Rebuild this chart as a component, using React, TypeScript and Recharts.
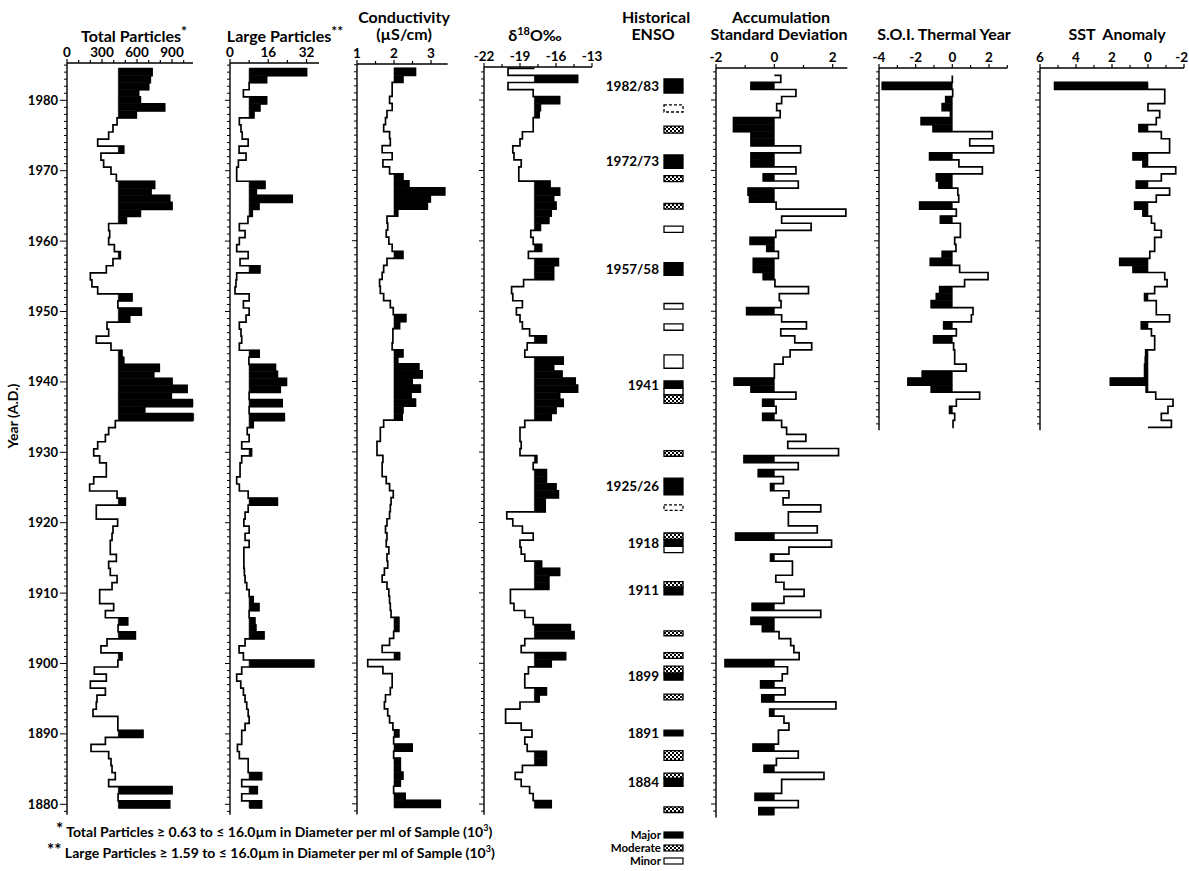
import { ComposedChart, XAxis, YAxis, Scatter, ReferenceArea, ReferenceLine } from "recharts";

const FONT = "Lato, 'Open Sans', sans-serif";

// every panel shares one vertical scale: 1980 sits at y=100, 7.04 px per year
const PX_PER_YEAR = 7.04;
const yPix = (year: number) => 100 + (1980 - year) * PX_PER_YEAR;
const AXIS_H = 34;

const decadeLabels = [1880, 1890, 1900, 1910, 1920, 1930, 1940, 1950, 1960, 1970, 1980];

// values run from the newest year back to the oldest
const totalParticles = [
  729, 714, 700, 614, 629, 837, 594, 429, 394, 357, // 1984-1975
  263, 486, 291, 314, 377, 423, 751, 720, 880, 900, // 1974-1965
  629, 509, 357, 366, 357, 406, 457, 394, 337, 200, // 1964-1955
  214, 263, 557, 436, 637, 537, 343, 357, 251, 377, // 1954-1945
  471, 486, 791, 743, 900, 1029, 894, 1080, 666, 1086, // 1944-1935
  414, 357, 329, 263, 229, 280, 337, 337, 229, 194, // 1934-1925
  429, 500, 251, 251, 434, 394, 386, 371, 371, 423, // 1924-1915
  357, 371, 429, 386, 280, 280, 400, 329, 520, 438, // 1914-1905
  586, 343, 291, 471, 436, 234, 337, 200, 329, 257, // 1904-1895
  251, 223, 436, 436, 651, 329, 206, 357, 377, 386, // 1894-1885
  414, 357, 900, 438, 880, // 1884-1880
];
const largeParticles = [
  32, 15.3, 8, 5.6, 15.3, 12.5, 10, 3.9, 4.6, 5.1,
  7.6, 3.8, 6.7, 3.5, 2.8, 2.8, 14.6, 11, 26, 12.1,
  9.3, 7.5, 3.9, 6.3, 3.9, 2.8, 7.6, 4.2, 12.5, 2.8,
  2.5, 2.1, 8, 5.6, 8, 6.7, 3.9, 4.6, 4.9, 3.9,
  12.2, 7.9, 19, 19.8, 23.6, 21, 8, 21.8, 8, 22.7,
  9.7, 7.2, 8, 4.9, 9, 4.9, 4.2, 4.2, 2.8, 3.9,
  7.6, 19.8, 7.6, 6.3, 5.8, 8, 6.3, 8, 5.8, 5.8,
  5.8, 6, 6.3, 7, 8, 9.7, 12.1, 8, 10.4, 10.8,
  14.2, 6.3, 3.8, 5.6, 35, 4.9, 2.8, 4.5, 5.6, 6.3,
  7, 7.6, 8, 6.3, 4.9, 4.9, 3.1, 3.9, 7.6, 7.6,
  13.2, 4.9, 11.4, 4.9, 13.2,
];
const conductivity = [
  2.58, 2.24, 1.95, 1.95, 1.88, 1.95, 1.81, 1.77, 1.72, 1.88,
  1.9, 1.68, 1.95, 1.7, 1.88, 2.24, 2.4, 3.37, 2.98, 2.9,
  2.1, 1.81, 1.83, 1.79, 1.86, 1.95, 2.24, 1.81, 1.72, 1.68,
  1.61, 1.63, 1.72, 1.9, 1.98, 2.32, 2.15, 1.97, 1.97, 1.95,
  2.24, 2.1, 2.67, 2.76, 2.49, 2.71, 2.46, 2.58, 2.24, 2.22,
  1.72, 1.63, 1.63, 1.54, 1.54, 1.7, 1.68, 1.68, 1.79, 1.88,
  1.98, 1.92, 1.9, 1.88, 1.81, 1.77, 1.81, 1.79, 1.86, 1.81,
  1.83, 1.74, 1.68, 1.81, 1.86, 1.88, 1.9, 1.92, 2.13, 2.13,
  1.99, 1.88, 1.68, 2.15, 1.29, 1.7, 1.95, 1.95, 1.9, 1.77,
  1.74, 1.83, 1.88, 1.97, 2.13, 1.99, 2.49, 1.99, 2.17, 2.17,
  2.24, 2.17, 1.99, 2.3, 3.25,
];
const delta18O = [
  -20.0, -14.2, -20.0, -17.9, -15.7, -17.3, -17.4, -17.9, -17.9, -18.8,
  -19.0, -19.6, -19.5, -18.9, -19.1, -19.1, -16.5, -15.7, -16.2, -16.0,
  -16.4, -16.6, -17.3, -18.1, -17.9, -17.2, -18.3, -15.8, -16.2, -16.2,
  -18.7, -19.7, -19.6, -18.8, -19.3, -19.0, -18.8, -18.2, -16.8, -18.4,
  -18.6, -15.4, -16.2, -15.5, -14.4, -14.2, -15.7, -15.4, -16.0, -16.4,
  -18.6, -19.0, -19.0, -18.9, -19.0, -17.6, -17.9, -16.8, -16.8, -16.0,
  -15.8, -16.9, -16.9, -20.1, -19.6, -18.8, -17.9, -19.0, -18.9, -18.6,
  -17.2, -15.7, -16.6, -16.6, -19.8, -19.8, -19.5, -18.6, -17.9, -14.8,
  -14.5, -18.6, -18.9, -15.2, -16.4, -18.3, -18.6, -18.6, -16.8, -17.4,
  -19.0, -20.2, -20.2, -18.9, -18.0, -18.6, -18.4, -16.8, -16.8, -18.8,
  -19.4, -18.9, -18.2, -17.9, -16.4,
];
// 1983 back to 1879
const accumulation = [
  0.22, -0.8, 0.74, 0.25, 0.08, 0.2, -1.4, -1.4, -0.8, -0.8,
  0.9, -0.8, -0.8, 0.74, -0.38, 0.82, -0.9, -0.85, 0.06, 2.45,
  0.25, 1.26, 0.05, -0.83, -0.26, 0.14, -0.72, -0.72, -0.38, 0.02,
  1.17, 0.17, 0.23, -0.95, 0.25, 1.1, 0.22, 0.7, 1.28, 0.54,
  0.3, 0, 0, -1.38, -0.8, 0.74, -0.4, 0.06, -0.4, 0.25,
  0.42, 1.08, 0.46, 2.2, -1.04, 0.82, -0.55, 0.31, -0.13, 0.5,
  0.3, 1.59, 0.48, 0.48, 1.47, -1.33, 1.96, 0.5, -0.13, 0.62,
  0.62, 0.05, 0.33, 1.02, 0.33, -0.76, 1.59, -0.8, -0.41, 0.16,
  0.56, 0.67, 0.85, -1.69, 0.45, 0.27, -0.47, 0.37, -0.43, 2.11,
  -0.16, 0.33, 0.5, 0.14, 0.14, -0.73, 0.82, 0.07, -0.35, 1.7,
  0.25, 0.25, -0.66, 0.82, -0.53,
];
// 1983 back to 1934
const soi = [
  0, -3.82, 0.02, -0.36, -0.55, -0.1, -1.7, -1.05, 2.18, 0.95,
  2.25, -1.24, 0.36, 1.64, -0.87, -0.73, 0.3, 0.35, -1.78, 0.22,
  -0.65, 0.44, 0.44, 0.13, 0.2, -0.55, -1.2, 0.4, 1.95, 0.67,
  -0.69, -0.87, -1.15, 1.13, 1.04, -0.47, 0.22, -1.02, 0.07, 0.13,
  0.13, 0.76, -1.64, -2.42, -1.15, 1.49, 0.22, -0.15, 0.13, 0.04,
];
// 1982 back to 1934
const sst = [
  5.19, -0.93, -0.93, 0, -0.65, -0.46, 0.5, -0.74, -1.2, -1.2,
  0.83, 0.28, -1.54, -0.74, 0.65, -1.2, -0.46, 0.74, 0.28, -0.19,
  -0.37, -0.74, -0.37, -0.37, -0.1, 1.57, 0.83, -0.93, -1.06, -0.37,
  0.19, -0.46, -0.46, -1.2, 0.37, -0.19, -0.37, -0.37, 0.13, 0.15,
  0.19, 0.19, 2.09, 0.1, -0.43, -1.39, -1.11, -0.74, -1.3,
];

// historical ENSO boxes: [top year, bottom year, strength]
const ensoBoxes: [number, number, string][] = [
  [1983.0, 1981.0, "major"],
  [1979.3, 1978.3, "dashed"],
  [1976.3, 1975.3, "moderate"],
  [1972.2, 1970.3, "major"],
  [1969.25, 1968.4, "moderate"],
  [1965.3, 1964.5, "moderate"],
  [1962.1, 1961.2, "minor"],
  [1956.9, 1955.1, "major"],
  [1951.1, 1950.3, "minor"],
  [1948.2, 1947.3, "minor"],
  [1943.8, 1941.9, "minor"],
  [1940.1, 1939.05, "major"],
  [1939.05, 1938.1, "minor"],
  [1938.1, 1936.9, "moderate"],
  [1930.2, 1929.4, "moderate"],
  [1926.3, 1923.9, "major"],
  [1922.5, 1921.7, "dashed"],
  [1918.5, 1917.6, "moderate"],
  [1917.6, 1916.6, "major"],
  [1916.6, 1915.7, "minor"],
  [1911.6, 1910.8, "moderate"],
  [1910.8, 1909.7, "major"],
  [1904.6, 1903.9, "moderate"],
  [1901.5, 1900.7, "moderate"],
  [1899.6, 1898.6, "moderate"],
  [1898.6, 1897.6, "major"],
  [1895.6, 1894.8, "moderate"],
  [1890.5, 1889.7, "major"],
  [1887.6, 1886.2, "moderate"],
  [1884.4, 1883.65, "moderate"],
  [1883.65, 1882.5, "major"],
  [1879.6, 1878.8, "moderate"],
];
const ensoLabels: [string, number][] = [
  ["1982/83", 1982.0],
  ["1972/73", 1971.25],
  ["1957/58", 1956.0],
  ["1941", 1939.5],
  ["1925/26", 1925.1],
  ["1918", 1917.1],
  ["1911", 1910.4],
  ["1899", 1898.2],
  ["1891", 1890.1],
  ["1884", 1883.1],
];

function stepPoints(first: number, values: number[], base: number) {
  const pts = [{ v: base, y: first + 0.5 }];
  values.forEach((v, i) => {
    pts.push({ v, y: first - i + 0.5 }, { v, y: first - i - 0.5 });
  });
  pts.push({ v: base, y: first - values.length + 0.5 });
  return pts;
}

function yearTicks(bottom: number, top: number) {
  const t: number[] = [];
  for (let y = Math.ceil(bottom); y <= Math.floor(top); y++) t.push(y);
  return t;
}

function TopTick(props: any) {
  const { x, y, payload, labels, endValue } = props;
  const major = labels.includes(payload.value);
  const atEnd = endValue !== undefined && payload.value === endValue;
  return (
    <g>
      <line x1={x} x2={x} y1={y} y2={y - (major ? 4 : 3)} stroke="#000" strokeWidth={1.2} />
      {major && (
        <text
          x={atEnd ? x + 4 : x}
          y={y - 6}
          textAnchor={atEnd ? "end" : "middle"}
          fontSize={13.5}
          fill="#000"
        >
          {payload.value}
        </text>
      )}
    </g>
  );
}

function YearTick(props: any) {
  const { x, y, payload, showLabels } = props;
  const decade = payload.value % 10 === 0;
  const len = decade ? (showLabels ? 7 : 5) : 3;
  return (
    <g>
      <line x1={x} x2={x - len} y1={y} y2={y} stroke="#000" strokeWidth={1} />
      {showLabels && decadeLabels.includes(payload.value) && (
        <text x={x - len - 2} y={y} dy="0.35em" textAnchor="end" fontSize={13} fill="#000">
          {payload.value}
        </text>
      )}
    </g>
  );
}

type PanelProps = {
  left: number;
  width: number;
  domain: [number, number];
  reversed?: boolean;
  ticks: number[];
  labels: number[];
  endLabel?: number;
  first: number;
  values: number[];
  base: number;
  blackAbove: boolean;
  top: number;
  bottom: number;
  yearLabels?: boolean;
};

function StepPanel(p: PanelProps) {
  const yAxisW = p.yearLabels ? 48 : 10;
  const plotH = yPix(p.bottom) - yPix(p.top);
  const pts = stepPoints(p.first, p.values, p.base);
  const black = (v: number) => (p.blackAbove ? v > p.base : v < p.base);
  return (
    <div style={{ position: "absolute", left: p.left - yAxisW, top: yPix(p.top) - AXIS_H }}>
      <ComposedChart
        width={yAxisW + p.width + 14}
        height={AXIS_H + plotH + 4}
        margin={{ top: 0, right: 14, bottom: 4, left: 0 }}
      >
        <XAxis
          type="number"
          dataKey="v"
          orientation="top"
          domain={p.domain}
          reversed={p.reversed}
          allowDataOverflow
          ticks={p.ticks}
          interval={0}
          height={AXIS_H}
          tickSize={0}
          tickMargin={0}
          tickLine={false}
          axisLine={{ stroke: "#000", strokeWidth: 1.4 }}
          tick={(t: any) => <TopTick {...t} labels={p.labels} endValue={p.endLabel} />}
        />
        <YAxis
          type="number"
          dataKey="y"
          domain={[p.bottom, p.top]}
          allowDataOverflow
          ticks={yearTicks(p.bottom, p.top)}
          interval={0}
          width={yAxisW}
          tickSize={0}
          tickMargin={0}
          tickLine={false}
          axisLine={{ stroke: "#000", strokeWidth: 1.4 }}
          tick={(t: any) => <YearTick {...t} showLabels={!!p.yearLabels} />}
        />
        {p.values.map((v, i) =>
          black(v) ? (
            <ReferenceArea
              key={i}
              x1={p.base}
              x2={v}
              y1={p.first - i - 0.5}
              y2={p.first - i + 0.5}
              fill="#000"
              fillOpacity={1}
              stroke="#000"
              strokeWidth={0.6}
              ifOverflow="visible"
            />
          ) : null
        )}
        <Scatter
          data={pts}
          line={{ stroke: "#000", strokeWidth: 1.7 }}
          shape={() => <g />}
          isAnimationActive={false}
        />
      </ComposedChart>
    </div>
  );
}

function ensoStyle(kind: string) {
  if (kind === "major") return { fill: "#000" };
  if (kind === "moderate") return { fill: "url(#enso-moderate)" };
  if (kind === "dashed") return { fill: "#fff", strokeDasharray: "3 2" };
  return { fill: "#fff" };
}

function EnsoPanel() {
  const left = 664;
  const width = 19;
  const ml = 72;
  const top = 1984.55;
  const bottom = 1878.1;
  const plotH = yPix(bottom) - yPix(top);
  // centre of every box, used only so the chart has a series to lay out
  const centres = ensoBoxes.map(([a, b]) => ({ x: 0.5, y: (a + b) / 2 }));
  return (
    <div style={{ position: "absolute", left: left - ml, top: yPix(top) }}>
      <ComposedChart
        width={ml + width + 2}
        height={plotH}
        margin={{ top: 0, right: 2, bottom: 0, left: ml }}
        data={centres}
      >
        <XAxis type="number" dataKey="x" domain={[0, 1]} hide allowDataOverflow />
        <YAxis type="number" dataKey="y" domain={[bottom, top]} hide allowDataOverflow />
        {ensoBoxes.map(([a, b, kind], i) => (
          <ReferenceArea
            key={i}
            x1={0}
            x2={1}
            y1={b}
            y2={a}
            fillOpacity={1}
            stroke="#000"
            strokeWidth={1.3}
            ifOverflow="visible"
            {...ensoStyle(kind)}
          />
        ))}
        {ensoLabels.map(([text, yr]) => (
          <ReferenceLine
            key={text}
            y={yr}
            stroke="none"
            ifOverflow="visible"
            label={{ value: text, position: "left", offset: 5, fill: "#000", fontSize: 13.5 }}
          />
        ))}
        <Scatter data={centres} shape={() => <g />} isAnimationActive={false} />
      </ComposedChart>
    </div>
  );
}

function Title({ x, y, children, size = 16 }: { x: number; y: number; children: any; size?: number }) {
  return (
    <div
      style={{
        position: "absolute",
        left: x,
        top: y,
        transform: "translate(-50%, -50%)",
        whiteSpace: "nowrap",
        fontSize: size,
        lineHeight: 1,
      }}
    >
      {children}
    </div>
  );
}

const totalTicks = [0, 100, 200, 300, 400, 500, 600, 700, 800, 900, 1000];
const totalLabels = [0, 300, 600, 900];
const largeTicks = [0, 8, 16, 24, 32];
const largeLabels = [0, 16, 32];
const condTicks = [1, 1.5, 2, 2.5, 3];
const condLabels = [1, 2, 3];
const deltaTicks = [-22, -20.5, -19, -17.5, -16, -14.5, -13];
const deltaLabels = [-22, -19, -16, -13];
const accTicks = [-2, -1, 0, 1, 2];
const accLabels = [-2, 0, 2];
const soiTicks = [-4, -3, -2, -1, 0, 1, 2, 3];
const soiLabels = [-4, -2, 0, 2];
const sstTicks = [-2, -1, 0, 1, 2, 3, 4, 5, 6];
const sstLabels = [6, 4, 2, 0, -2];

export default function App() {
  return (
    <div
      style={{
        position: "absolute",
        left: 0,
        top: 0,
        width: 1189,
        height: 871,
        background: "#fff",
        fontFamily: FONT,
        fontWeight: 700,
        color: "#000",
        overflow: "hidden",
      }}
    >
      <style>{`.recharts-surface{overflow:visible}`}</style>
      <svg width={0} height={0} style={{ position: "absolute" }}>
        <defs>
          <pattern id="enso-moderate" width={4} height={4} patternUnits="userSpaceOnUse">
            <rect width={4} height={4} fill="#fff" />
            <rect width={2} height={2} fill="#000" />
            <rect x={2} y={2} width={2} height={2} fill="#000" />
          </pattern>
        </defs>
      </svg>

      <Title x={134} y={34}>Total Particles<sup style={{ fontSize: 14 }}>*</sup></Title>
      <Title x={285} y={34}>Large Particles<sup style={{ fontSize: 14 }}>**</sup></Title>
      <Title x={404} y={17}>Conductivity</Title>
      <Title x={404} y={34}>(µS/cm)</Title>
      <Title x={535} y={34}>δ<sup style={{ fontSize: 11 }}>18</sup>O‰</Title>
      <Title x={656} y={17}>Historical</Title>
      <Title x={653} y={34}>ENSO</Title>
      <Title x={781} y={17}>Accumulation</Title>
      <Title x={779} y={34}>Standard Deviation</Title>
      <Title x={944} y={34}>S.O.I. Thermal Year</Title>
      <Title x={1117} y={34}>SST&nbsp;&nbsp;Anomaly</Title>

      <div
        style={{
          position: "absolute",
          left: 12,
          top: 416,
          transform: "translate(-50%, -50%) rotate(-90deg)",
          whiteSpace: "nowrap",
          fontSize: 14,
        }}
      >
        Year (A.D.)
      </div>

      <StepPanel left={66.7} width={126} domain={[0, 1080]} ticks={totalTicks} labels={totalLabels}
        first={1984} values={totalParticles} base={440} blackAbove top={1985.3} bottom={1878.5} yearLabels />
      <StepPanel left={230} width={89} domain={[0, 37.2]} ticks={largeTicks} labels={largeLabels}
        first={1984} values={largeParticles} base={8} blackAbove top={1985.3} bottom={1878.5} />
      <StepPanel left={356.7} width={90.7} domain={[1, 3.45]} ticks={condTicks} labels={condLabels}
        first={1984} values={conductivity} base={2} blackAbove top={1985.1} bottom={1878.5} />
      <StepPanel left={484} width={108} domain={[-22, -13]} ticks={deltaTicks} labels={deltaLabels}
        first={1984} values={delta18O} base={-17.8} blackAbove top={1984.7} bottom={1878.5} />
      <EnsoPanel />
      <StepPanel left={716} width={131.3} domain={[-2, 2.5]} ticks={accTicks} labels={accLabels}
        first={1983} values={accumulation} base={0} blackAbove={false} top={1984.55} bottom={1878.1} />
      <StepPanel left={879.4} width={128.3} domain={[-4, 3]} ticks={soiTicks} labels={soiLabels}
        first={1983} values={soi} base={0} blackAbove={false} top={1984.55} bottom={1933.1} />
      <StepPanel left={1040.3} width={144} domain={[-2, 6]} reversed ticks={sstTicks} labels={sstLabels}
        endLabel={-2} first={1982} values={sst} base={0} blackAbove top={1984.55} bottom={1933.1} />

      <svg width={110} height={46} style={{ position: "absolute", left: 590, top: 827 }}>
        <text x={71} y={8} dy="0.35em" textAnchor="end" fontSize={11.5}>Major</text>
        <rect x={74} y={5} width={19} height={6} fill="#000" stroke="#000" strokeWidth={1.2} />
        <text x={71} y={21} dy="0.35em" textAnchor="end" fontSize={11.5}>Moderate</text>
        <rect x={74} y={18} width={19} height={6} fill="url(#enso-moderate)" stroke="#000" strokeWidth={1.2} />
        <text x={71} y={34} dy="0.35em" textAnchor="end" fontSize={11.5}>Minor</text>
        <rect x={74} y={31} width={19} height={6} fill="#fff" stroke="#000" strokeWidth={1.2} />
      </svg>

      <div style={{ position: "absolute", left: 56, top: 818, fontSize: 14, whiteSpace: "nowrap", lineHeight: "19px" }}>
        <span style={{ fontSize: 17, position: "relative", top: -2 }}>*</span> Total Particles ≥ 0.63 to ≤ 16.0µm in Diameter per ml of Sample (10<sup style={{ fontSize: 9 }}>3</sup>)
      </div>
      <div style={{ position: "absolute", left: 47, top: 839, fontSize: 14, whiteSpace: "nowrap", lineHeight: "19px" }}>
        <span style={{ fontSize: 17, position: "relative", top: -2 }}>**</span> Large Particles ≥ 1.59 to ≤ 16.0µm in Diameter per ml of Sample (10<sup style={{ fontSize: 9 }}>3</sup>)
      </div>
    </div>
  );
}
